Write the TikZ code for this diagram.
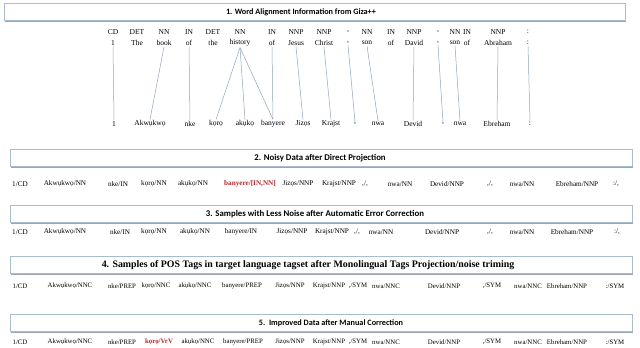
\documentclass[tikz,border=0pt]{standalone}
\usepackage{fontspec}
\setmainfont{Liberation Serif}
\newfontfamily\headfont{Carlito}
\usetikzlibrary{shadows}
\definecolor{bnborder}{HTML}{A9BCCF}
\definecolor{bnshadow}{HTML}{8E9DAD}
\definecolor{lnblue}{HTML}{8FA4BA}
\definecolor{errred}{HTML}{B8262B}

\tikzset{
  banner/.style={draw=bnborder, fill=white, line width=0.6pt, inner sep=0pt,
    minimum width=622pt, minimum height=17pt,
    drop shadow={shadow xshift=1.3pt, shadow yshift=-1.6pt, fill=bnshadow, opacity=0.9}},
  ttl/.style={font=\headfont\bfseries\fontsize{#1}{10}\selectfont},
  ttl/.default=8.8,
  tok/.style={font=\fontsize{7.2}{8}\selectfont, inner sep=1pt},
  smtok/.style={font=\fontsize{6.8}{8}\selectfont, inner sep=1pt},
  wrd/.style={font=\fontsize{7.5}{9}\selectfont, inner sep=1pt},
  noisy/.style={text=errred, inner sep=1pt, font=\bfseries\fontsize{#1}{8}\selectfont},
  link/.style={draw=lnblue, line width=0.5pt}
}

\begin{document}
\begin{tikzpicture}[x=1pt, y=-1pt]

% Frame
\useasboundingbox (0,0) rectangle (640,348);

% ========== 1. Word alignment ==========
\node[banner, minimum width=621pt] (bn1) at (314.5,11.5) {};
\node[ttl=8.2] (t1) at (301,12) {1. Word Alignment Information from Giza++};

% Source tags and words
\foreach \x/\tg/\w [count=\i] in {113/CD/1, 137/DET/The, 164/NN/book, 189/IN/of,
    213/DET/the, 240/NN/history, 272/IN/of, 296/NNP/Jesus, 324/NNP/Christ,
    348/{,}/{,}, 367/NN/son, 391/IN/of, 414/NNP/David, 438/{,}/{,}, 455/NN/son,
    467/IN/of, 498/NNP/Abraham, 528/:/:} {
  \node[wrd] (tg\i) at (\x,32) {\tg};
  \node[wrd] (up\i) at (\x,43) {\w};
}

% Target words
\foreach \x/\w [count=\i] in {114/1, 150/Akwụkwọ, 190/nke, 216/kọrọ, 245/akụkọ,
    273/banyere, 303/Jizọs, 331/Krajst, 355/{,}, 378/nwa, 413/Devid, 443/{,},
    460/nwa, 497/Ebreham, 530/:} {
  \node[wrd] (dn\i) at (\x,124) {\w};
}

% Alignment links
\foreach \a/\b in {1/1, 3/2, 4/3, 6/4, 6/5, 6/6, 7/6, 8/7, 9/8, 10/9, 11/10,
    13/11, 14/12, 15/13, 17/14, 18/15}
  \draw[link] (up\a.south) -- (dn\b.north);

% ========== 2. Noisy data ==========
\node[banner] (bn2) at (321,157.5) {};
\node[ttl] (t2) at (320,158) {2. Noisy Data after Direct Projection};

\foreach \x/\w [count=\i] in {20/{1/CD}, 65/{Akwụkwọ/NN}, 118/{nke/IN}, 154/{kọrọ/NN},
    193/{akụkọ/NN}, 298/{Jizọs/NNP}, 339/{Krajst/NNP}, 365/{,/,}, 400/{nwa/NN},
    447/{Devid/NNP}, 490/{,/,}, 522/{nwa/NN}, 577/{Ebreham/NNP}, 616/{:/,}}
  \node[tok] (rb\i) at (\x,184) {\w};
\node[noisy=7.2] (rb0) at (250,184) {banyere/[IN,NN]};

% ========== 3. Less noise ==========
\node[banner] (bn3) at (321,214) {};
\node[ttl] (t3) at (315,214.5) {3. Samples with Less Noise after Automatic Error Correction};

\foreach \x/\w [count=\i] in {20/{1/CD}, 65/{Akwụkwọ/NN}, 120/{nke/IN}, 154/{kọrọ/NN},
    195/{akụkọ/NN}, 241/{banyere/IN}, 292/{Jizọs/NNP}, 332/{Krajst/NNP}, 357/{,/,},
    381/{nwa/NN}, 442/{Devid/NNP}, 490/{,/,}, 522/{nwa/NN}, 572/{Ebreham/NNP}, 617/{:/,}}
  \node[tok] (rc\i) at (\x,232) {\w};

% ========== 4. Target tagset ==========
\node[banner] (bn4) at (321,265) {};
\node[font=\bfseries\fontsize{9.9}{11}\selectfont] (t4) at (308,265.5)
  {4. Samples of POS Tags in target language tagset after Monolingual Tags Projection/noise triming};

\foreach \x/\w [count=\i] in {20/{1/CD}, 70/{Akwụkwọ/NNC}, 122/{nke/PREP}, 156/{kọrọ/NNC},
    195/{akụkọ/NNC}, 242/{banyere/PREP}, 290/{Jizọs/NNP}, 329/{Krajst/NNP}, 358/{,/SYM},
    386/{nwa/NNC}, 444/{Devid/NNP}, 492/{,/SYM}, 528/{nwa/NNC}, 567/{Ebreham/NNP}, 615/{:/SYM}}
  \node[smtok] (rd\i) at (\x,286) {\w};

% ========== 5. Manual correction ==========
\node[banner] (bn5) at (321,322.5) {};
\node[ttl=8.2] (t5) at (331,323) {5.\ \ Improved Data after Manual Correction};

\foreach \x/\w [count=\i] in {20/{1/CD}, 70/{Akwụkwọ/NNC}, 122/{nke/PREP},
    198/{akụkọ/NNC}, 243/{banyere/PREP}, 290/{Jizọs/NNP}, 329/{Krajst/NNP}, 358/{,/SYM},
    386/{nwa/NNC}, 444/{Devid/NNP}, 492/{,/SYM}, 528/{nwa/NNC}, 567/{Ebreham/NNP}, 615/{:/SYM}}
  \node[smtok] (re\i) at (\x,342) {\w};
\node[noisy=6.8] (re0) at (159,342) {kọrọ/VrV};

\end{tikzpicture}
\end{document}
